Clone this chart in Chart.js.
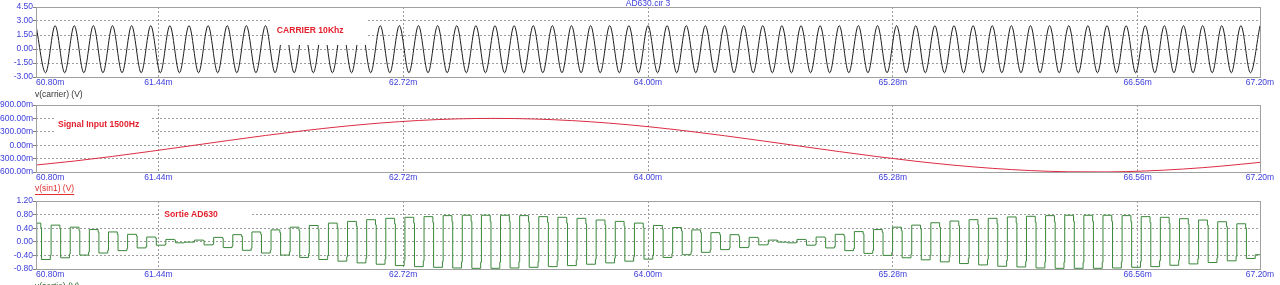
<!DOCTYPE html>
<html><head><meta charset="utf-8">
<script src="https://cdn.jsdelivr.net/npm/chart.js@4.4.1/dist/chart.umd.min.js"></script>
<style>
html,body{margin:0;padding:0;background:#fff;width:1280px;height:285px;overflow:hidden}
canvas{position:absolute;left:0;top:0}
</style></head><body>
<canvas id="c1" width="1280" height="285"></canvas>
<canvas id="c2" width="1280" height="285"></canvas>
<canvas id="c3" width="1280" height="285"></canvas>
<script>
// ---------- shared time axis (ms) ----------
const xMin = 60.80, xMax = 67.20;
const xTicks = [60.80, 61.44, 62.72, 64.00, 65.28, 66.56, 67.20];

// ---------- panel 1 : v(carrier) ----------
const carrierStart = 60.80, carrierHalfPeriod = 0.05;   // extrema every half period (10 kHz)
const carrierExtrema = [
 2.5,-2.55,2.5,-2.55,2.5,-2.55,2.5,-2.55,2.5,-2.55,2.5,-2.55,2.5,-2.55,2.5,-2.55,
 2.5,-2.55,2.5,-2.55,2.5,-2.55,2.5,-2.55,2.5,-2.55,2.5,-2.55,2.5,-2.55,2.5,-2.55,
 2.5,-2.55,2.5,-2.55,2.5,-2.55,2.5,-2.55,2.5,-2.55,2.5,-2.55,2.5,-2.55,2.5,-2.55,
 2.5,-2.55,2.5,-2.55,2.5,-2.55,2.5,-2.55,2.5,-2.55,2.5,-2.55,2.5,-2.55,2.5,-2.55,
 2.5,-2.55,2.5,-2.55,2.5,-2.55,2.5,-2.55,2.5,-2.55,2.5,-2.55,2.5,-2.55,2.5,-2.55,
 2.5,-2.55,2.5,-2.55,2.5,-2.55,2.5,-2.55,2.5,-2.55,2.5,-2.55,2.5,-2.55,2.5,-2.55,
 2.5,-2.55,2.5,-2.55,2.5,-2.55,2.5,-2.55,2.5,-2.55,2.5,-2.55,2.5,-2.55,2.5,-2.55,
 2.5,-2.55,2.5,-2.55,2.5,-2.55,2.5,-2.55,2.5,-2.55,2.5,-2.55,2.5,-2.55,2.5,-2.55,
 2.5];
const carrierTicks = [-3.0, -1.5, 0.0, 1.5, 3.0, 4.5];

// ---------- panel 2 : v(sin1) ----------
const signalStart = 60.80, signalStep = 0.2;
const signalValues = [
 -0.444,-0.355,-0.251,-0.137,-0.018,0.102,0.218,0.325,0.419,0.496,0.553,0.589,0.600,
 0.587,0.551,0.493,0.415,0.320,0.212,0.096,-0.024,-0.143,-0.256,-0.359,-0.448,-0.518,
 -0.568,-0.595,-0.598,-0.577,-0.533,-0.468,-0.384];
const signalTicks = [-0.6, -0.3, 0.0, 0.3, 0.6, 0.9];

// ---------- panel 3 : sortie AD630 ----------
const outFirstEdge = 60.825, outHalfPeriod = 0.05, outSpikeWidth = 0.004;
const outLevels = [
 -0.44,0.42,-0.40,0.38,-0.36,0.33,-0.30,0.28,-0.25,0.22,-0.20,0.17,-0.14,0.11,-0.08,0.05,
 -0.02,-0.01,0.04,-0.07,0.10,-0.13,0.16,-0.19,0.22,-0.25,0.27,-0.30,0.33,-0.35,0.37,-0.40,
 0.42,-0.44,0.46,-0.48,0.50,-0.51,0.53,-0.54,0.55,-0.56,0.57,-0.58,0.59,-0.59,0.60,-0.60,
 0.60,-0.60,0.60,-0.59,0.59,-0.58,0.57,-0.56,0.55,-0.54,0.53,-0.51,0.49,-0.48,0.46,-0.44,
 0.42,-0.39,0.37,-0.35,0.32,-0.29,0.27,-0.24,0.21,-0.18,0.16,-0.13,0.10,-0.07,0.04,-0.01,
 -0.02,0.05,-0.08,0.11,-0.14,0.17,-0.20,0.23,-0.26,0.28,-0.31,0.33,-0.36,0.38,-0.41,0.43,
 -0.45,0.47,-0.49,0.50,-0.52,0.53,-0.55,0.56,-0.57,0.58,-0.59,0.59,-0.60,0.60,-0.60,0.60,
 -0.60,0.60,-0.59,0.59,-0.58,0.57,-0.56,0.55,-0.53,0.52,-0.50,0.49,-0.47,0.45,-0.43,0.41,
 -0.38];
const outSpikes = [
 -0.44,0.55,-0.52,0.49,-0.47,0.43,-0.39,0.36,-0.33,0.29,-0.26,0.22,-0.18,0.14,-0.10,0.07,
 -0.03,-0.01,0.05,-0.09,0.13,-0.17,0.21,-0.25,0.29,-0.33,0.35,-0.39,0.43,-0.46,0.48,-0.52,
 0.55,-0.57,0.60,-0.62,0.65,-0.66,0.69,-0.70,0.72,-0.73,0.74,-0.75,0.77,-0.77,0.78,-0.78,
 0.78,-0.78,0.78,-0.77,0.77,-0.75,0.74,-0.73,0.72,-0.70,0.69,-0.66,0.64,-0.62,0.60,-0.57,
 0.55,-0.51,0.48,-0.46,0.42,-0.38,0.35,-0.31,0.27,-0.23,0.21,-0.17,0.13,-0.09,0.05,-0.01,
 -0.03,0.07,-0.10,0.14,-0.18,0.22,-0.26,0.30,-0.34,0.36,-0.40,0.43,-0.47,0.49,-0.53,0.56,
 -0.59,0.61,-0.64,0.65,-0.68,0.69,-0.72,0.73,-0.74,0.75,-0.77,0.77,-0.78,0.78,-0.78,0.78,
 -0.78,0.78,-0.77,0.77,-0.75,0.74,-0.73,0.72,-0.69,0.68,-0.65,0.64,-0.61,0.59,-0.56,0.53,
 -0.49];
const outTicks = [-0.8, -0.4, 0.0, 0.4, 0.8, 1.2];

// ---------- build point lists from the arrays ----------
const carrierPts = carrierExtrema.map((v, i) => ({x: carrierStart + i * carrierHalfPeriod, y: v}));
const signalPts = signalValues.map((v, i) => ({x: signalStart + i * signalStep, y: v}));
const outPts = [];
outLevels.forEach((lv, j) => {
  const t = j === 0 ? xMin : outFirstEdge + (j - 1) * outHalfPeriod;
  outPts.push({x: t, y: outSpikes[j]});
  outPts.push({x: t + outSpikeWidth, y: lv});
});
outPts.push({x: xMax, y: outLevels[outLevels.length - 1]});

// ---------- style ----------
const H = 285;
const FONT = '"Liberation Sans", Arial, Helvetica, sans-serif';
const BLUE = '#3c3cdc';
const GRID = '#9c9c9c';
Chart.defaults.font.family = FONT;
Chart.defaults.font.size = 8.5;
Chart.defaults.color = BLUE;

const framePlugin = {
  id: 'frame',
  afterDatasetsDraw(chart, args, opts) {
    const {ctx, chartArea: a} = chart;
    const xs = chart.scales.x, ys = chart.scales.y;
    ctx.save();
    (opts.notes || []).forEach(n => {
      const bx1 = xs.getPixelForValue(n.box[0]), bx2 = xs.getPixelForValue(n.box[1]);
      const by1 = ys.getPixelForValue(n.box[2]), by2 = ys.getPixelForValue(n.box[3]);
      ctx.fillStyle = '#ffffff';
      ctx.fillRect(bx1, by1, bx2 - bx1, by2 - by1);
      ctx.font = 'bold 8.6px ' + FONT;
      ctx.fillStyle = '#e4202c';
      ctx.textAlign = 'left';
      ctx.textBaseline = 'middle';
      ctx.fillText(n.text, xs.getPixelForValue(n.x), ys.getPixelForValue(n.y));
    });
    ctx.strokeStyle = '#a0a0a0';
    ctx.lineWidth = 1;
    ctx.strokeRect(Math.round(a.left) + 0.5, Math.round(a.top) + 0.5,
                   Math.round(a.right - a.left), Math.round(a.bottom - a.top));
    (opts.texts || []).forEach(t => {
      ctx.font = '8.5px ' + FONT;
      ctx.fillStyle = t.color;
      ctx.textBaseline = 'middle';
      let px, py;
      if (t.anchor === 'center') { ctx.textAlign = 'center'; px = (a.left + a.right) / 2; py = t.y; }
      else { ctx.textAlign = 'left'; px = a.left - 1; py = a.bottom + t.dy; }
      ctx.fillText(t.text, px, py);
      if (t.underline) {
        const w = ctx.measureText(t.text).width;
        ctx.strokeStyle = t.color;
        ctx.beginPath();
        ctx.moveTo(px, Math.round(py + 5) + 0.5);
        ctx.lineTo(px + w, Math.round(py + 5) + 0.5);
        ctx.stroke();
      }
    });
    ctx.restore();
  }
};

function makeChart(id, cfg) {
  const nY = cfg.yTicks.length;
  return new Chart(document.getElementById(id), {
    type: 'line',
    data: {datasets: [{
      data: cfg.points, borderColor: cfg.color, borderWidth: 1, pointRadius: 0, fill: false,
      cubicInterpolationMode: cfg.monotone ? 'monotone' : 'default',
      stepped: cfg.stepped || false, tension: 0
    }]},
    options: {
      responsive: false, animation: false, events: [],
      layout: {padding: {top: cfg.top, right: 20, left: 0, bottom: 0}},
      plugins: {legend: {display: false}, tooltip: {enabled: false},
                frame: {notes: cfg.notes, texts: cfg.texts}},
      scales: {
        x: {
          type: 'linear', min: xMin, max: xMax,
          afterFit: s => { s.height = H - cfg.bottom; },
          afterBuildTicks: s => { s.ticks = xTicks.map(v => ({value: v})); },
          ticks: {autoSkip: false, maxRotation: 0, minRotation: 0, padding: 1, color: BLUE,
            callback: (v, i) => (i === 0 ? ' '.repeat(12) : '') + Number(v).toFixed(2) + 'm'},
          grid: {color: c => (c.index === 0 || c.index === xTicks.length - 1) ? 'rgba(0,0,0,0)' : GRID,
                 drawTicks: false, lineWidth: 1},
          border: {display: false, dash: [2, 2]}
        },
        y: {
          type: 'linear', min: cfg.yTicks[0], max: cfg.yTicks[nY - 1],
          afterFit: s => { s.width = 36; },
          afterBuildTicks: s => { s.ticks = cfg.yTicks.map(v => ({value: v})); },
          ticks: {padding: 0, color: BLUE, callback: cfg.yFmt},
          grid: {color: c => (c.index === 0 || c.index === nY - 1) ? 'rgba(0,0,0,0)' : GRID,
                 tickColor: '#808080', tickLength: 3, drawTicks: true, lineWidth: 1},
          border: {display: false, dash: [2, 2]}
        }
      }
    },
    plugins: [framePlugin]
  });
}

makeChart('c1', {
  top: 7, bottom: 77, points: carrierPts, color: '#1e1e1e', monotone: true,
  yTicks: carrierTicks, yFmt: v => Number(v).toFixed(2),
  notes: [{text: 'CARRIER 10Khz', x: 62.059, y: 1.96, box: [62.028, 62.527, 3.54, 0.43]}],
  texts: [{text: 'AD630.cir 3', color: BLUE, anchor: 'center', y: 3.5},
          {text: 'v(carrier) (V)', color: '#333333', dy: 18}]
});
makeChart('c2', {
  top: 105, bottom: 172, points: signalPts, color: '#dc2c44', monotone: true,
  yTicks: signalTicks, yFmt: v => (Number(v) * 1000).toFixed(2) + 'm',
  notes: [{text: 'Signal Input 1500Hz', x: 60.915, y: 0.452, box: [60.894, 61.398, 0.676, 0.228]}],
  texts: [{text: 'v(sin1) (V)', color: '#e03030', dy: 17, underline: true}]
});
makeChart('c3', {
  top: 201, bottom: 269, points: outPts, color: '#3a873a', stepped: 'after',
  yTicks: outTicks, yFmt: v => Number(v).toFixed(2),
  notes: [{text: 'Sortie AD630', x: 61.471, y: 0.788, box: [61.448, 61.923, 0.994, 0.582]}],
  texts: [{text: 'v(sortie) (V)', color: '#2a6a2a', dy: 18}]
});
</script>
</body></html>
